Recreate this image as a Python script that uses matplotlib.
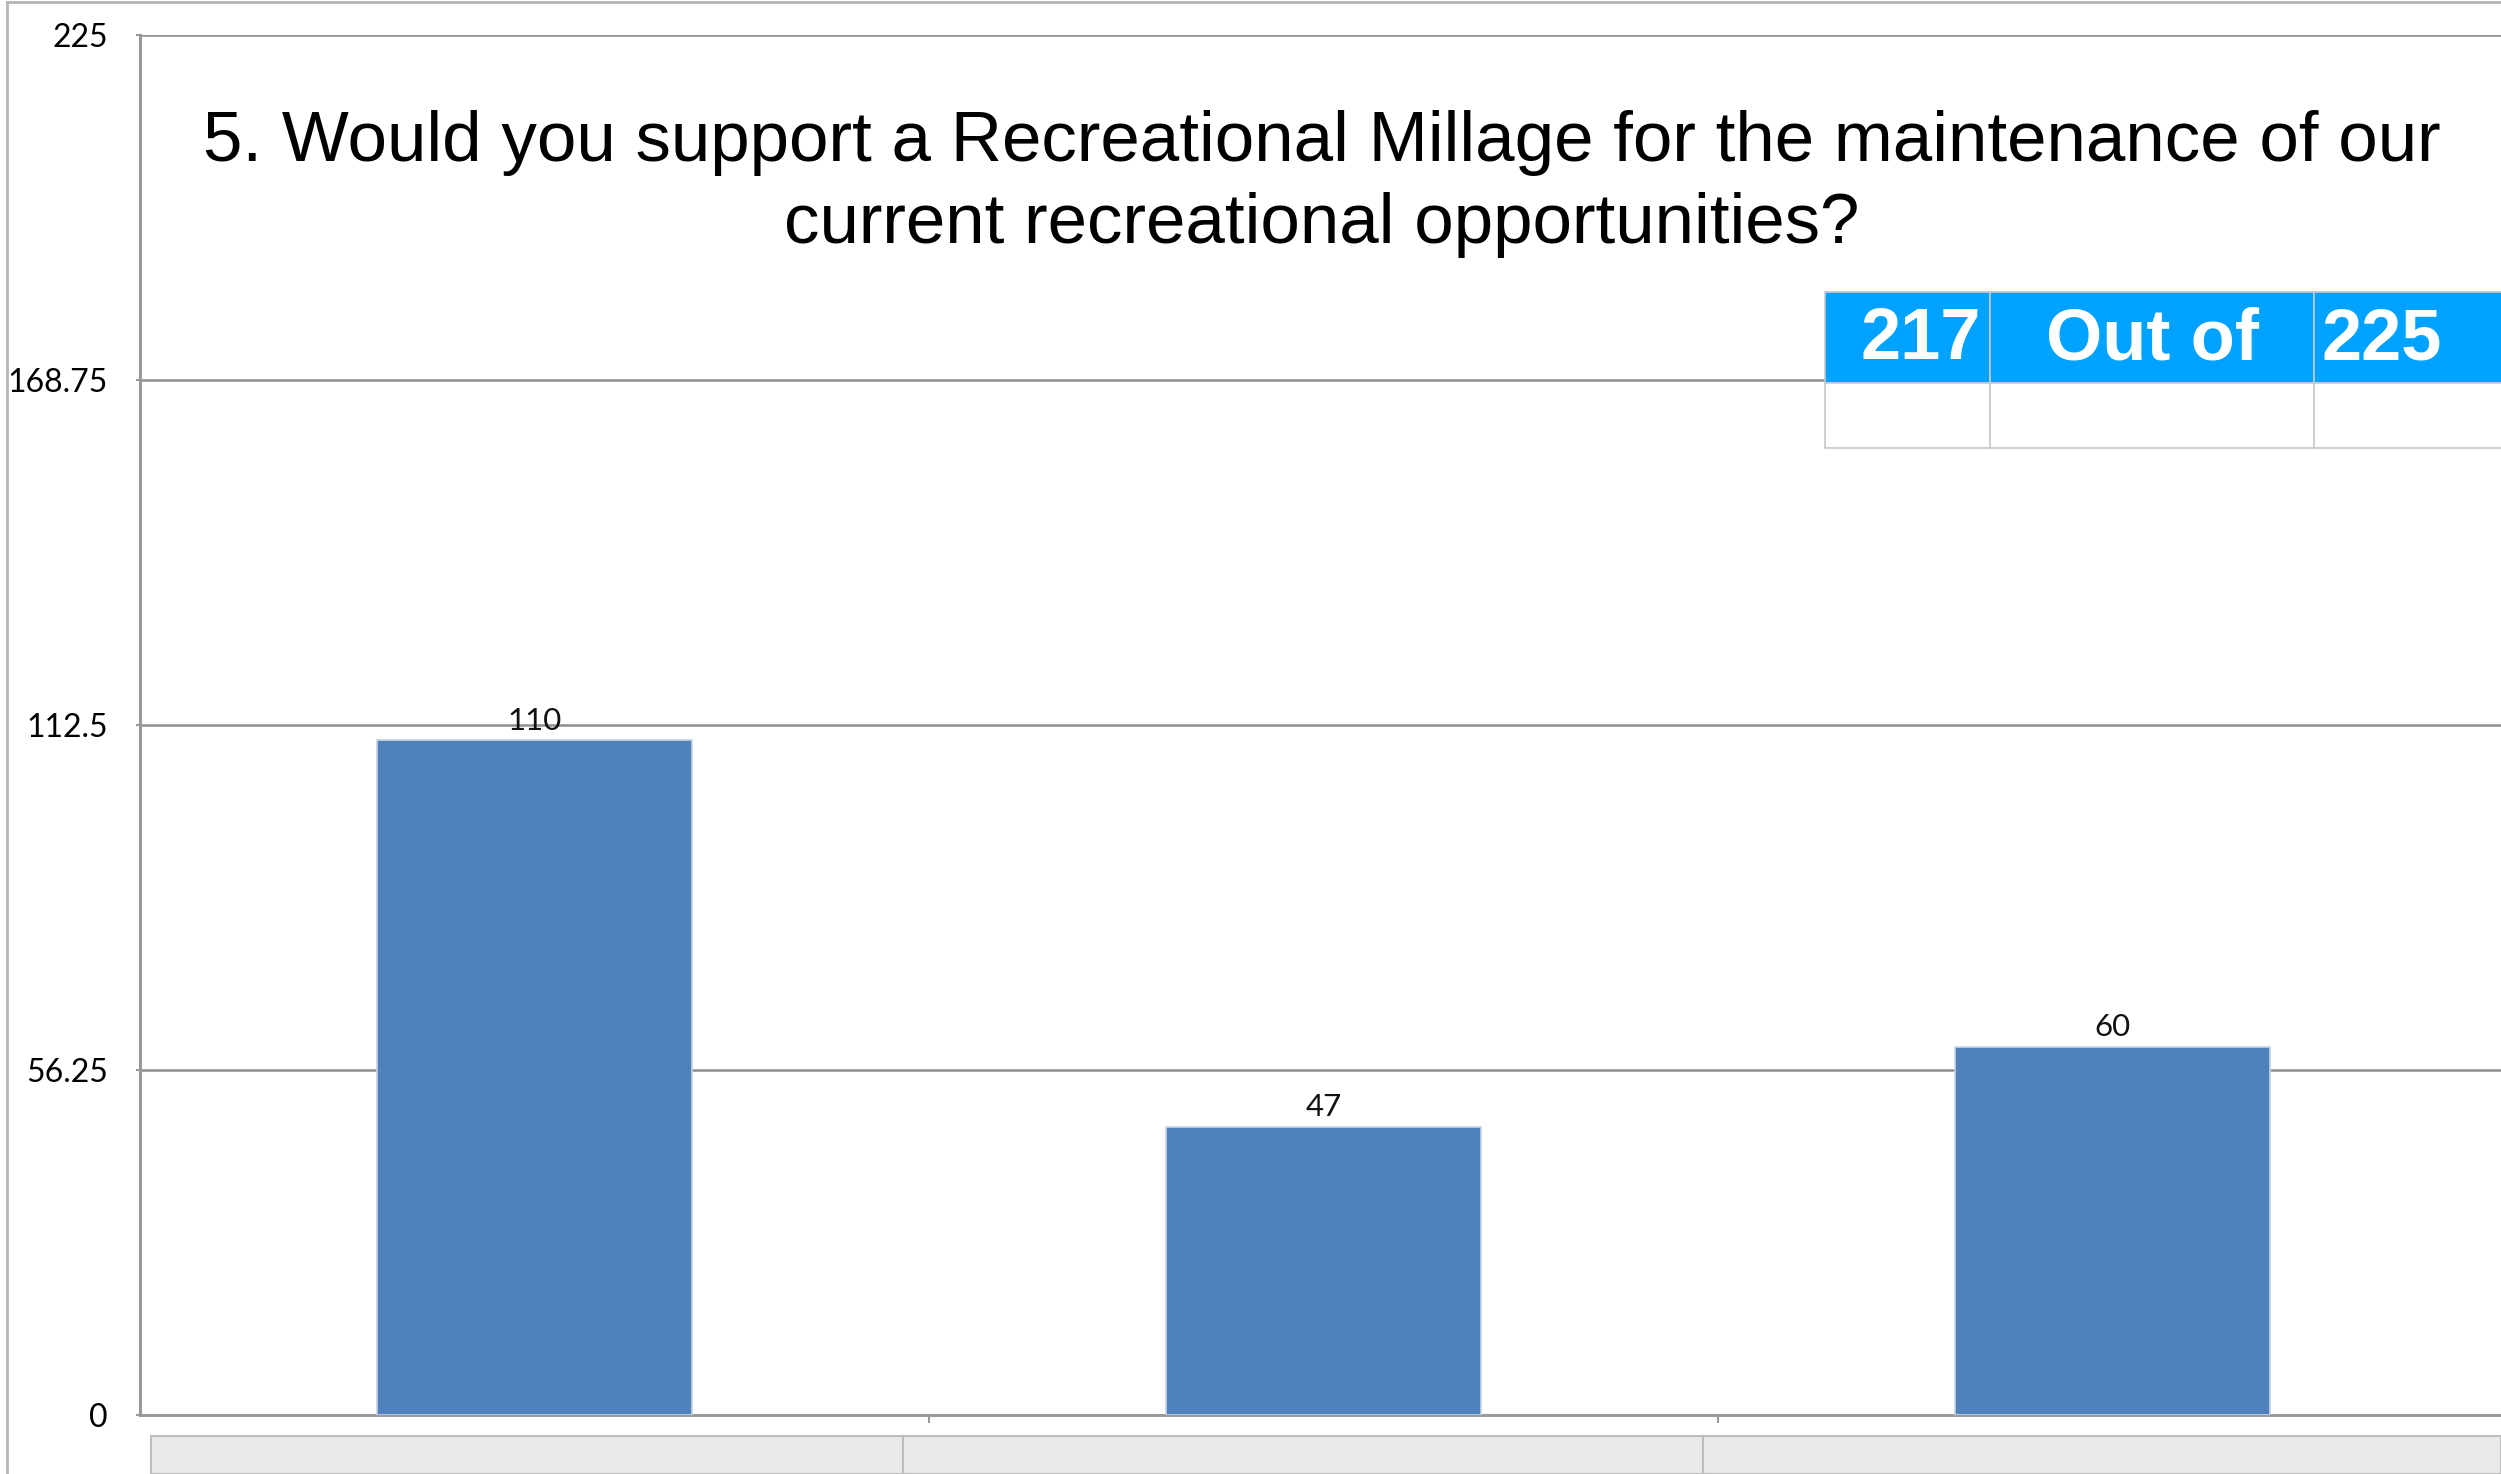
import matplotlib.pyplot as plt
from matplotlib.patches import Rectangle
from matplotlib.lines import Line2D

# survey answers (category names are hidden in the screenshot)
categories = ['', '', '']
counts = [110, 47, 60]
yticks = [0, 56.25, 112.5, 168.75, 225]
ytick_labels = ['0', '56.25', '112.5', '168.75', '225']
answered = '217'
total = '225'
title = ('5. Would you support a Recreational Millage for the maintenance of our\n'
         'current recreational opportunities?')

W, H = 2501, 1474
fig = plt.figure(figsize=(W / 100, H / 100), dpi=100)
fig.patch.set_facecolor('white')

# plot area (right side runs just past the image edge, like the screenshot)
ax = fig.add_axes([140 / W, (H - 1415) / H, 2367 / W, 1380 / H])
x = range(len(counts))
bars = ax.bar(x, counts, width=0.4, color='#4F81BD', edgecolor='#c8d3e3', linewidth=1.2, zorder=3)
ax.bar_label(bars, labels=[str(c) for c in counts], padding=4,
             fontsize=22.5, family='Lato', color='#111111')

ax.set_xlim(-0.5, 2.5)
ax.set_ylim(0, 225)
ax.set_yticks(yticks)
ax.set_yticklabels(ytick_labels, family='Lato', fontsize=23)
ax.set_xticks([0.5, 1.5])
ax.set_xticklabels([])
ax.tick_params(axis='x', length=6, width=1.5, color='#999999', direction='out')
ax.tick_params(axis='y', length=3, width=1.5, color='#999999', pad=20)
ax.grid(axis='y', color='#8f8f8f', linewidth=1.8, zorder=0)
for s in ['top', 'right']:
    ax.spines[s].set_visible(False)
for s in ['left', 'bottom']:
    ax.spines[s].set_color('#9a9a9a')
    ax.spines[s].set_linewidth(2.2)

# title
fig.text(1322 / W, 1 - 184 / H, title, ha='center', va='center',
         family='Liberation Sans', fontsize=51, linespacing=1.3)

# "217 Out of 225" header cells
cols = [1825, 1990, 2314, 2560]
blue_top, blue_bot, row_bot = 292, 383, 448
for i in range(3):
    fig.patches.append(Rectangle((cols[i] / W, 1 - blue_bot / H), (cols[i + 1] - cols[i]) / W,
                                 (blue_bot - blue_top) / H, transform=fig.transFigure,
                                 facecolor='#00A2FF', edgecolor='#c8c8c8', linewidth=1.2))
    fig.patches.append(Rectangle((cols[i] / W, 1 - row_bot / H), (cols[i + 1] - cols[i]) / W,
                                 (row_bot - blue_bot) / H, transform=fig.transFigure,
                                 facecolor='white', edgecolor='#c8c8c8', linewidth=1.2))
ty = 1 - 340 / H
fig.text(1981 / W, ty, answered, ha='right', va='center', color='white',
         family='Liberation Sans', fontweight='bold', fontsize=52)
fig.text(2153 / W, ty, 'Out of', ha='center', va='center', color='white',
         family='Liberation Sans', fontweight='bold', fontsize=52)
fig.text(2321 / W, ty, total, ha='left', va='center', color='white',
         family='Liberation Sans', fontweight='bold', fontsize=52)

# grey category-label strip under the chart
fig.patches.append(Rectangle((151 / W, 0), (W - 151) / W, (H - 1436) / H, transform=fig.transFigure,
                             facecolor='#e9e9e9', edgecolor='#bdbdbd', linewidth=1.5))
for xd in [903, 1703]:
    fig.add_artist(Line2D([xd / W, xd / W], [0, (H - 1436) / H], color='#bdbdbd', linewidth=1.5))

# outer frame of the screenshot
fig.add_artist(Line2D([7 / W, 7 / W], [0, 1 - 2 / H], color='#b5b5b5', linewidth=2))
fig.add_artist(Line2D([7 / W, 1], [1 - 2 / H, 1 - 2 / H], color='#b5b5b5', linewidth=2))

fig.savefig('out.png', dpi=100)
